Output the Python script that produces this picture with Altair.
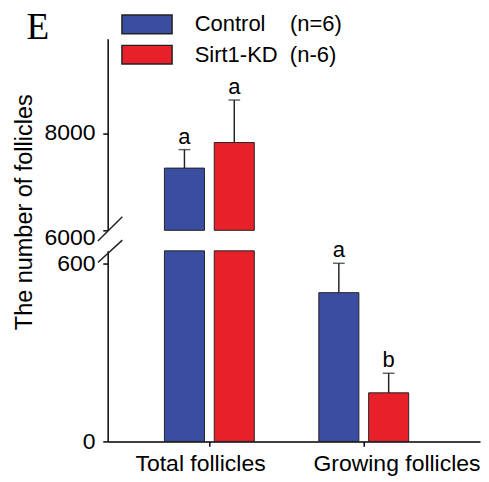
import altair as alt
import pandas as pd

categories = ["Total follicles", "Growing follicles"]
groups = ["Control", "Sirt1-KD"]
group_labels = ["Control\u00a0\u00a0\u00a0\u00a0(n=6)", "Sirt1-KD\u00a0\u00a0(n-6)"]
control_mean = [7280, 502]
control_sd = [380, 99]
kd_mean = [7806, 164]
kd_sd = [874, 66]
control_letters = ["a", "a"]
kd_letters = ["a", "b"]
colors = ["#3A4DA0", "#E8202A"]

rows = []
for i, c in enumerate(categories):
    rows.append(dict(category=c, group=groups[0], mean=control_mean[i],
                     upper=control_mean[i] + control_sd[i], letter=control_letters[i]))
    rows.append(dict(category=c, group=groups[1], mean=kd_mean[i],
                     upper=kd_mean[i] + kd_sd[i], letter=kd_letters[i]))
df = pd.DataFrame(rows)

HIGH_DOMAIN = [6000, 9940]
LOW_DOMAIN = [0, 643]
W = 381
H_TOP = 196
H_BOT = 195
FONT = "Liberation Sans"
FS = 22.5
AXFS = 23.5
INK = "#222222"

x_scale = alt.Scale(domain=categories, paddingInner=0.4177, paddingOuter=0.4147, align=0.443)
xoff = alt.XOffset("group:N", scale=alt.Scale(domain=groups, paddingInner=0.196, paddingOuter=0))

label_expr = "datum.label == '%s' ? '%s' : '%s'" % (groups[0], group_labels[0], group_labels[1])
color = alt.Color(
    "group:N",
    scale=alt.Scale(domain=groups, range=colors),
    legend=alt.Legend(
        title=None, orient="none", legendX=29, legendY=-26,
        symbolType="M-2.7,-1L2.7,-1L2.7,1L-2.7,1Z", symbolSize=361,
        symbolStrokeColor=INK, symbolStrokeWidth=1.5, symbolOpacity=1,
        labelFont=FONT, labelFontSize=FS, labelColor="black", labelOffset=37.5,
        labelExpr=label_expr, rowPadding=5, padding=0, labelLimit=400,
    ),
)

# ---------- upper segment ----------
hi = alt.Chart(df).transform_filter(f"datum.mean >= {HIGH_DOMAIN[0]}")
y_hi = alt.Scale(domain=HIGH_DOMAIN, nice=False, zero=False)
hi_axis = alt.Axis(
    values=[6000, 8000], title="The number of follicles", titleFont=FONT, titleFontSize=24,
    titleFontWeight="normal", titleColor="black", titleX=-78, titleY=177,
    titleAlign="center", titleBaseline="alphabetic", titleAngle=-90,
    tickSize=5, labelPadding=8, format="d",
    labelOffset={"condition": {"test": "datum.value == 6000", "value": 7}, "value": 0},
)
hi_bars = hi.mark_bar(stroke=INK, strokeWidth=1).encode(
    x=alt.X("category:N", scale=x_scale, axis=None),
    xOffset=xoff,
    y=alt.Y("mean:Q", scale=y_hi, axis=hi_axis),
    y2=alt.datum(HIGH_DOMAIN[0]),
    color=color,
)
hi_rule = hi.mark_rule(color=INK, strokeWidth=1.5).encode(
    x=alt.X("category:N", scale=x_scale, axis=None), xOffset=xoff,
    y=alt.Y("mean:Q", scale=y_hi), y2="upper:Q",
)
hi_cap = hi.mark_tick(color=INK, thickness=1.5, size=12).encode(
    x=alt.X("category:N", scale=x_scale, axis=None), xOffset=xoff,
    y=alt.Y("upper:Q", scale=y_hi),
)
hi_text = hi.mark_text(font=FONT, fontSize=FS, baseline="alphabetic", dy=-6, color="black").encode(
    x=alt.X("category:N", scale=x_scale, axis=None), xOffset=xoff,
    y=alt.Y("upper:Q", scale=y_hi), text="letter:N",
)
one = pd.DataFrame({"k": [0]})
hi_slash = alt.Chart(one).mark_rule(color=INK, strokeWidth=1.5).encode(
    x=alt.value(-10), x2=alt.value(15), y=alt.value(H_TOP + 11), y2=alt.value(H_TOP - 14)
)
upper = alt.layer(hi_bars, hi_rule, hi_cap, hi_text, hi_slash).properties(width=W, height=H_TOP)

# ---------- lower segment ----------
lo = alt.Chart(df)
lo_small = lo.transform_filter(f"datum.mean < {LOW_DOMAIN[1]}")
y_lo = alt.Scale(domain=LOW_DOMAIN, nice=False, clamp=True)
lo_axis = alt.Axis(values=[0, 600], title=None, tickSize=5, labelPadding=8, format="d")
x_axis = alt.Axis(
    title=None, labelAngle=0, tickSize=5, labelPadding=6, labelLimit=400,
    labelOffset={"condition": {"test": "datum.value == 'Growing follicles'", "value": 34}, "value": -9},
)
lo_bars = lo.mark_bar(stroke=INK, strokeWidth=1).encode(
    x=alt.X("category:N", scale=x_scale, axis=x_axis),
    xOffset=xoff,
    y=alt.Y("mean:Q", scale=y_lo, axis=lo_axis),
    color=color,
)
lo_rule = lo_small.mark_rule(color=INK, strokeWidth=1.5).encode(
    x=alt.X("category:N", scale=x_scale), xOffset=xoff,
    y=alt.Y("mean:Q", scale=y_lo), y2="upper:Q",
)
lo_cap = lo_small.mark_tick(color=INK, thickness=1.5, size=12).encode(
    x=alt.X("category:N", scale=x_scale), xOffset=xoff,
    y=alt.Y("upper:Q", scale=y_lo),
)
lo_text = lo_small.mark_text(font=FONT, fontSize=FS, baseline="alphabetic", dy=-6, color="black").encode(
    x=alt.X("category:N", scale=x_scale), xOffset=xoff,
    y=alt.Y("upper:Q", scale=y_lo), text="letter:N",
)
lo_slash = alt.Chart(one).mark_rule(color=INK, strokeWidth=1.5).encode(
    x=alt.value(-10), x2=alt.value(15), y=alt.value(12), y2=alt.value(-11)
)
lower = alt.layer(lo_bars, lo_rule, lo_cap, lo_text, lo_slash).properties(width=W, height=H_BOT)

chart = alt.vconcat(upper, lower, spacing=21, bounds="flush").properties(
    title=alt.TitleParams("E", anchor="start", font="Liberation Serif", fontSize=38,
                          fontWeight="normal", color="black", dx=14, dy=38),
    padding={"left": 5, "top": -4, "right": 0, "bottom": 0},
).configure_axis(
    labelFont=FONT, labelFontSize=AXFS, labelColor="black", domainColor="black",
    tickColor="black", domainWidth=1.5, tickWidth=1.5, grid=False,
).configure_view(stroke=None)

chart.save("out.html", embed_options={"renderer": "svg", "actions": False})
